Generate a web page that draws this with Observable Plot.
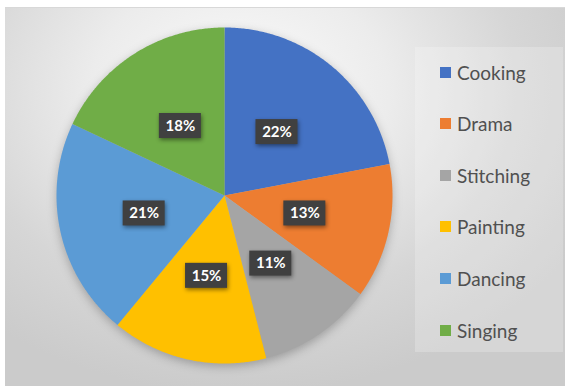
<!DOCTYPE html>
<html><head><meta charset="utf-8">
<script src="https://cdn.jsdelivr.net/npm/d3@7"></script>
<script src="https://cdn.jsdelivr.net/npm/@observablehq/plot@0.6"></script>
<style>
body{margin:0;background:#fff;}
#wrap{position:relative;width:565px;height:391px;overflow:hidden;background:#fff;font-family:Lato,"Open Sans",sans-serif;}
#bg{position:absolute;left:5px;top:7px;width:560px;height:378px;
  background:radial-gradient(ellipse 70% 80% at 42% 22%, #fbfbfb 0%, #ececec 38%, #d6d6d6 72%, #cbcbcb 100%);
  border-top:1px solid #d8d8d8;}
#chart{position:absolute;left:0;top:0;}
#chart g[aria-label="line"]{filter:drop-shadow(0px 3px 5px rgba(0,0,0,0.25));}
#chart g[aria-label="rect"]{filter:drop-shadow(1px 2px 2px rgba(0,0,0,0.45));}
#legend{position:absolute;left:415px;top:47px;width:148px;height:305px;background:rgba(255,255,255,0.22);}
.item{position:absolute;left:25px;height:22px;display:flex;align-items:center;font-size:19px;color:#505050;}
.sw{width:11px;height:11px;margin-right:6px;}
</style>
</head><body>
<div id="wrap"><div id="bg"></div><div id="chart"></div><div id="legend"></div></div>
<script>
const categories = ["Cooking","Drama","Stitching","Painting","Dancing","Singing"];
const shares = [22,13,11,15,21,18];
const colors = ["#4472C4","#ED7D31","#A5A5A5","#FFC000","#5B9BD5","#70AD47"];

const total = d3.sum(shares);
const slicePts = [];
const labels = [];
let acc = 0;
categories.forEach((c, i) => {
  const a0 = acc / total * 2 * Math.PI;
  acc += shares[i];
  const a1 = acc / total * 2 * Math.PI;
  slicePts.push({cat: c, x: 0, y: 0});
  const n = Math.max(2, Math.ceil((a1 - a0) / (Math.PI / 360)));
  for (let k = 0; k <= n; k++) {
    const a = a0 + (a1 - a0) * k / n;
    slicePts.push({cat: c, x: Math.sin(a), y: Math.cos(a)});
  }
  slicePts.push({cat: c, x: 0, y: 0});
  const am = (a0 + a1) / 2, r = 0.49;
  labels.push({cat: c, text: shares[i] + "%", x: r * Math.sin(am), y: r * Math.cos(am)});
});

const bw = 21 / 168, bh = 12.5 / 168;
const chart = Plot.plot({
  width: 565, height: 391,
  style: {background: "transparent", overflow: "visible"},
  x: {domain: [-1, 1], range: [56, 392], axis: null},
  y: {domain: [-1, 1], range: [363, 27], axis: null},
  color: {domain: categories, range: colors},
  marks: [
    Plot.line(slicePts, {x: "x", y: "y", z: "cat", fill: "cat", stroke: "none", curve: "linear"}),
    Plot.rect(labels, {x1: d => d.x - bw, x2: d => d.x + bw, y1: d => d.y - bh, y2: d => d.y + bh, fill: "#404040"}),
    Plot.text(labels, {x: "x", y: "y", text: "text", fill: "white", fontSize: 15, fontWeight: "bold", fontFamily: "Lato, sans-serif"})
  ]
});
document.getElementById("chart").appendChild(chart);

const legend = document.getElementById("legend");
categories.forEach((c, i) => {
  const it = document.createElement("div");
  it.className = "item";
  it.style.top = (14 + i * 51.6) + "px";
  const sw = document.createElement("span");
  sw.className = "sw"; sw.style.background = colors[i];
  const tx = document.createElement("span");
  tx.textContent = c;
  it.appendChild(sw); it.appendChild(tx);
  legend.appendChild(it);
});
</script>
</body></html>
